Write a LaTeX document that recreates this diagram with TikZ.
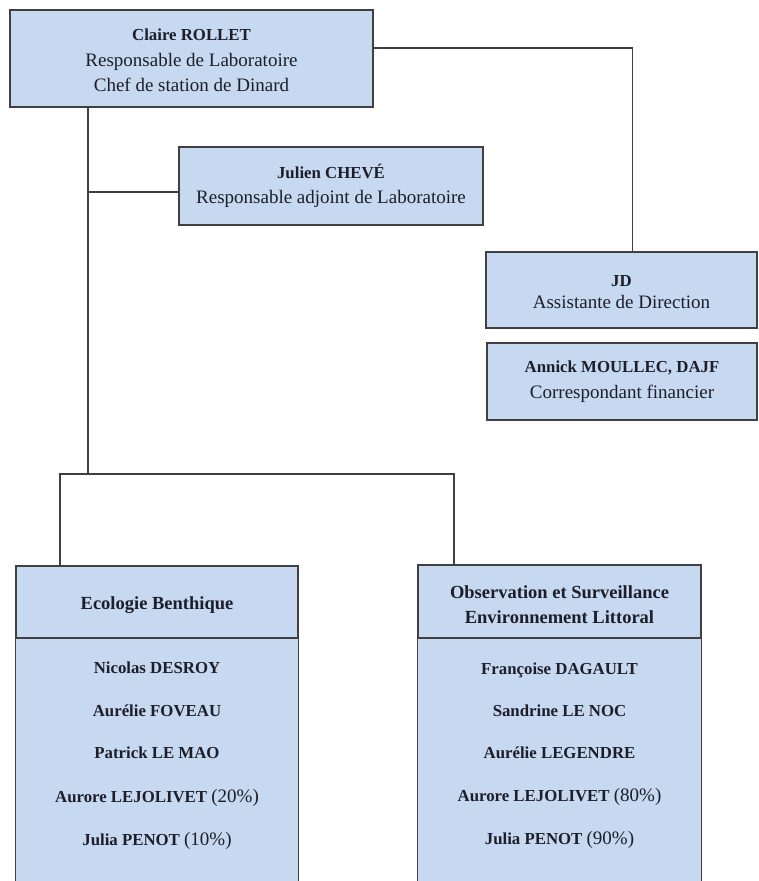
\documentclass[tikz,border=0pt]{standalone}
\usepackage{fontspec}
\setmainfont{Liberation Serif}
\definecolor{boxfill}{HTML}{C6D9F0}
\definecolor{boxline}{HTML}{404040}
\definecolor{ink}{HTML}{1E1E2A}
% bold name inside a role box
\newcommand{\pname}[1]{{\fontsize{16.8}{20}\selectfont\bfseries #1}}
% bold team heading
\newcommand{\thead}[1]{{\fontsize{18.5}{25}\selectfont\bfseries #1}}
% share of time, in regular weight
\newcommand{\pcent}[1]{{\fontsize{19}{20}\selectfont\mdseries #1}}
% invisible strut that lowers a text block a little
\newcommand{\lowerby}[1]{\rule{0pt}{#1}}
\begin{document}
\begin{tikzpicture}[x=1pt,y=-1pt,
  box/.style={draw=boxline, fill=boxfill, line width=1.3pt, inner sep=0pt,
              text=ink, align=center},
  bodyfill/.style={fill=boxfill, inner sep=0pt},
  link/.style={draw=boxline, line width=1.3pt},
  role/.style={font=\fontsize{19}{25.5}\selectfont},
  member/.style={anchor=base, text=ink, inner sep=0pt,
                 font=\fontsize{16.8}{20}\selectfont\bfseries}]
\useasboundingbox (0,0) rectangle (758,881);

% direction
\node[box, role, minimum width=363pt, minimum height=97pt] (claire) at (191.5,58.5)
  {\lowerby{15.5pt}\pname{Claire ROLLET}\\ Responsable de Laboratoire\\ Chef de station de Dinard};
\node[box, role, minimum width=304pt, minimum height=78pt] (julien) at (331,186)
  {\pname{Julien CHEVÉ}\\ Responsable adjoint de Laboratoire};
\node[box, font=\fontsize{19}{22}\selectfont, minimum width=271pt, minimum height=76pt] (jd) at (621.5,290)
  {\lowerby{15.5pt}\pname{JD}\\ Assistante de Direction};
\node[box, role, minimum width=270pt, minimum height=77pt] (annick) at (622,381.5)
  {\pname{Annick MOULLEC, DAJF}\\ Correspondant financier};

% teams: body areas run off the bottom edge
\node[bodyfill, minimum width=282pt, minimum height=243pt] (ecobody) at (157,759.5) {};
\node[bodyfill, minimum width=283pt, minimum height=243pt] (obsbody) at (559.5,759.5) {};
\draw[link] (ecobody.south west) -- (ecobody.north west);
\draw[link] (ecobody.south east) -- (ecobody.north east);
\draw[link] (obsbody.south west) -- (obsbody.north west);
\draw[link] (obsbody.south east) -- (obsbody.north east);

\node[box, minimum width=282pt, minimum height=72pt] (ecohead) at (157,602)
  {\lowerby{18.6pt}\thead{Ecologie Benthique}};
\node[box, font=\fontsize{18.5}{25}\selectfont, minimum width=283pt, minimum height=73pt] (obshead) at (559.5,601.5)
  {\lowerby{18.6pt}\thead{Observation et Surveillance}\\ \thead{Environnement Littoral}};

% team members
\node[member] (eco1) at (157,673.5) {Nicolas DESROY};
\node[member] (eco2) at (157,716) {Aurélie FOVEAU};
\node[member] (eco3) at (157,758) {Patrick LE MAO};
\node[member] (eco4) at (157,802) {Aurore LEJOLIVET \pcent{(20\%)}};
\node[member] (eco5) at (157,845) {Julia PENOT \pcent{(10\%)}};

\node[member] (obs1) at (559.5,674) {Françoise DAGAULT};
\node[member] (obs2) at (559.5,716) {Sandrine LE NOC};
\node[member] (obs3) at (559.5,758) {Aurélie LEGENDRE};
\node[member] (obs4) at (559.5,801) {Aurore LEJOLIVET \pcent{(80\%)}};
\node[member] (obs5) at (559.5,844) {Julia PENOT \pcent{(90\%)}};

% connectors
\coordinate (trunk) at (88,474);
\coordinate (busL) at (60,474);
\coordinate (busR) at (454,474);
\draw[link] ([yshift=10.5pt]claire.east) -| ([xshift=11pt]jd.north);
\draw[link] (claire.south -| trunk) -- (trunk);
\draw[link] (trunk |- 0,192) -- ([yshift=-6pt]julien.west);
\draw[link] (ecohead.north -| busL) -- (busL) -- (busR) -- (obshead.north -| busR);
\end{tikzpicture}
\end{document}
